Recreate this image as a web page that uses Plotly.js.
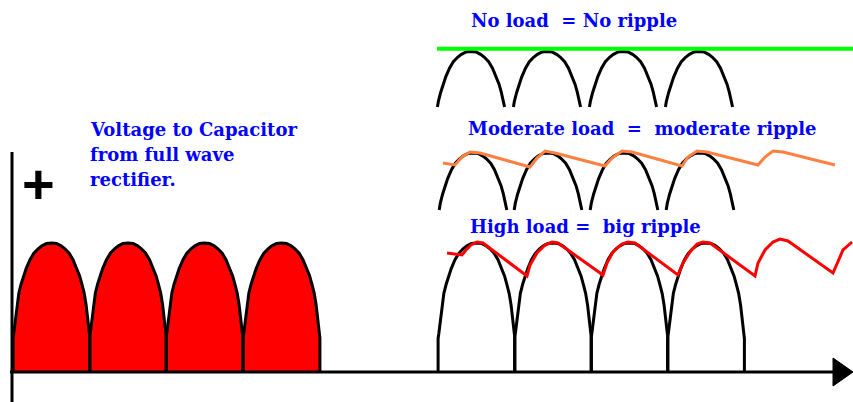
<!DOCTYPE html>
<html>
<head>
<meta charset="utf-8">
<script src="https://cdn.plot.ly/plotly-3.0.1.min.js"></script>
<style>html,body{margin:0;padding:0;background:#fff;}#chart{width:853px;height:402px;}</style>
</head>
<body>
<div id="chart"></div>
<script>
// ---- data (pixel-like units, y grows downward) ----
// normalised arch profile (offset from centre in half-widths, relative height)
const archOffset = [-1, -1, -0.98, -0.96, -0.93, -0.90, -0.85, -0.79, -0.73, -0.66, -0.56, -0.46, -0.35, -0.25, -0.13, 0, 0.13, 0.25, 0.35, 0.46, 0.56, 0.66, 0.73, 0.79, 0.85, 0.90, 0.93, 0.96, 0.98, 1, 1];
const archHeight = [0, 0.26, 0.30, 0.35, 0.44, 0.52, 0.61, 0.68, 0.745, 0.80, 0.87, 0.92, 0.955, 0.978, 0.997, 1, 0.997, 0.978, 0.955, 0.92, 0.87, 0.80, 0.745, 0.68, 0.61, 0.52, 0.44, 0.35, 0.30, 0.26, 0];

// rectifier output (left, filled)
const leftCenters = [51.5, 128, 204.5, 281.5];
// no-load row
const row1Centers = [471, 547, 623, 699];
// moderate-load row
const row2Centers = [473, 548, 624, 700];
// high-load row
const row3Centers = [476.5, 553, 629.5, 706];

// no-load capacitor voltage
const noLoadX = [437, 853];
const noLoadY = [48.7, 48.7];

// moderate-load ripple
const modX = [443, 455, 462, 470, 480, 530, 537, 545, 555, 605, 612, 622, 632, 682, 688, 697, 707, 758, 765, 773, 783, 835];
const modY = [163, 165, 157, 152, 153, 167, 158, 151, 153, 166, 158, 151, 152, 166, 157, 151, 152, 165, 157, 151, 152, 165];

// high-load ripple
const highX = [447, 462, 466, 471, 477, 483, 527, 530, 537, 545, 552, 558, 603, 607, 613, 622, 628, 635, 678, 683, 690, 697, 703, 710, 755, 758, 765, 773, 780, 788, 833, 837, 843, 852];
const highY = [253, 255, 250, 245, 242, 243, 276, 265, 253, 245, 242, 243, 275, 263, 252, 244, 242, 243, 275, 263, 252, 244, 242, 243, 276, 263, 250, 242, 239, 241, 273, 263, 250, 242];

// text labels
const labelLeft = ["Voltage to Capacitor", "from full wave", "rectifier."];
const labelNoLoad = "No load\u00a0\u00a0= No ripple";
const labelModerate = "Moderate load\u00a0\u00a0=\u00a0\u00a0moderate ripple";
const labelHigh = "High load =\u00a0\u00a0big ripple";

// ---- geometry helpers ----
function archPts(c, halfW, peakY, hgt) {
  return {
    x: archOffset.map(d => c + d * halfW),
    y: archHeight.map(h => peakY + (1 - h) * hgt)
  };
}
function clipArch(c, halfW, peakY, hgt, cutY) {
  const p = archPts(c, halfW, peakY, hgt);
  const xs = [], ys = [];
  for (let i = 0; i < p.x.length; i++) {
    const inside = p.y[i] <= cutY;
    if (i > 0) {
      const prevIn = p.y[i - 1] <= cutY;
      if (inside !== prevIn) {
        const t = (cutY - p.y[i - 1]) / (p.y[i] - p.y[i - 1]);
        xs.push(p.x[i - 1] + t * (p.x[i] - p.x[i - 1]));
        ys.push(cutY);
      }
    }
    if (inside) { xs.push(p.x[i]); ys.push(p.y[i]); }
  }
  return {x: xs, y: ys};
}
function joinArches(list) {
  const x = [], y = [];
  list.forEach((a, i) => { if (i) { x.push(null); y.push(null); } x.push(...a.x); y.push(...a.y); });
  return {x, y};
}

const halfW = 38.4;
const leftA = joinArches(leftCenters.map(c => archPts(c, halfW, 243, 128)));
const r1 = joinArches(row1Centers.map(c => clipArch(c, halfW, 51.5, 128, 107)));
const r2 = joinArches(row2Centers.map(c => clipArch(c, halfW, 153, 128, 210)));
const r3 = joinArches(row3Centers.map(c => archPts(c, halfW, 243, 129)));

const blk = {color: '#000', width: 3};
const traces = [
  {x: leftA.x, y: leftA.y, mode: 'lines', fill: 'toself', fillcolor: '#ff0000', line: blk, hoverinfo: 'skip'},
  {x: r1.x, y: r1.y, mode: 'lines', line: blk, hoverinfo: 'skip'},
  {x: r2.x, y: r2.y, mode: 'lines', line: blk, hoverinfo: 'skip'},
  {x: r3.x, y: r3.y, mode: 'lines', line: blk, hoverinfo: 'skip'},
  {x: noLoadX, y: noLoadY, mode: 'lines', line: {color: '#00ff00', width: 4}, hoverinfo: 'skip'},
  {x: modX, y: modY, mode: 'lines', line: {color: '#ff8040', width: 3}, hoverinfo: 'skip'},
  {x: highX, y: highY, mode: 'lines', line: {color: '#ff0000', width: 3}, hoverinfo: 'skip'}
];

const tFont = {family: 'DejaVu Serif', size: 18, color: '#0000ff', weight: 'bold'};
function lab(text, x, y) {
  return {text: '<b>' + text + '</b>', x, y, xref: 'x', yref: 'y', xanchor: 'left', yanchor: 'middle', showarrow: false, font: tFont};
}
const annotations = [
  lab(labelLeft[0], 88, 129),
  lab(labelLeft[1], 88, 154),
  lab(labelLeft[2], 88, 179),
  lab(labelNoLoad, 469, 20),
  lab(labelModerate, 466, 128),
  lab(labelHigh, 468, 226),
  {text: '<b>+</b>', x: 38, y: 183, xref: 'x', yref: 'y', xanchor: 'center', yanchor: 'middle', showarrow: false,
   font: {family: 'Liberation Sans', size: 56, color: '#000'}}
];

const shapes = [
  {type: 'line', x0: 12, x1: 12, y0: 152, y1: 402, line: {color: '#000', width: 3}},
  {type: 'line', x0: 10, x1: 838, y0: 372, y1: 372, line: {color: '#000', width: 3}},
  {type: 'path', path: 'M833,358 L853,372 L833,386 Z', fillcolor: '#000', line: {color: '#000', width: 1}}
];

const layout = {
  width: 853, height: 402,
  margin: {l: 0, r: 0, t: 0, b: 0},
  paper_bgcolor: '#fff', plot_bgcolor: '#fff',
  showlegend: false,
  xaxis: {range: [0, 853], visible: false, fixedrange: true},
  yaxis: {range: [402, 0], visible: false, fixedrange: true},
  shapes, annotations
};
Plotly.newPlot('chart', traces, layout, {staticPlot: true, displayModeBar: false});
</script>
</body>
</html>
